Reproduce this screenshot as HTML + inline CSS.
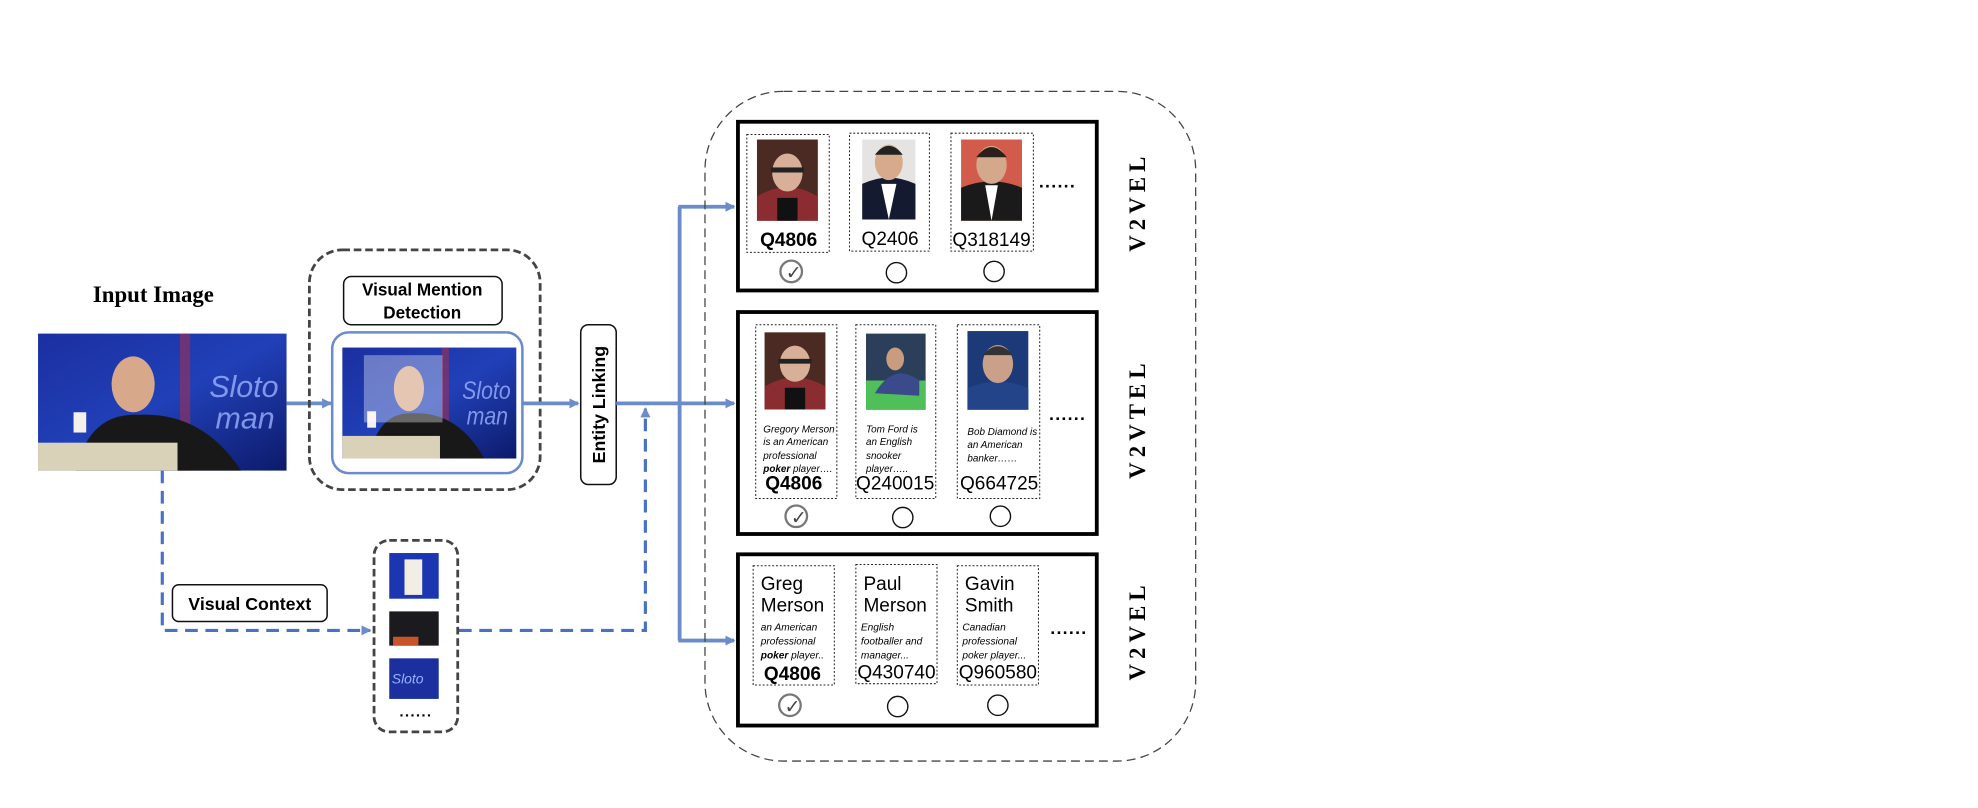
<!DOCTYPE html>
<html><head><meta charset="utf-8"><style>
html,body{margin:0;padding:0;background:#fff;}
svg{display:block;}
.s{font-family:"Liberation Sans",sans-serif;}
.r{font-family:"Liberation Serif",serif;}
</style></head><body>
<svg width="1978" height="808" viewBox="0 0 1560 637" preserveAspectRatio="none" xmlns="http://www.w3.org/2000/svg">
<defs>
<marker id="ah" markerWidth="8" markerHeight="8" refX="7" refY="4" orient="auto" markerUnits="userSpaceOnUse"><path d="M0,0 L8,4 L0,8 z" fill="#6a8ccb"/></marker>
<linearGradient id="bg" x1="0" y1="0" x2="1" y2="1"><stop offset="0" stop-color="#1b2fa0"/><stop offset="0.5" stop-color="#2140b8"/><stop offset="1" stop-color="#0c1a6a"/></linearGradient>
<g id="scene">
<rect x="0" y="0" width="196" height="108" fill="url(#bg)"/>
<rect x="112" y="0" width="8" height="108" fill="#a03050" opacity="0.6"/>
<text x="135" y="50" font-size="24" fill="#9ab0ff" font-style="italic" class="s" opacity="0.8">Sloto</text>
<text x="140" y="75" font-size="24" fill="#9ab0ff" font-style="italic" class="s" opacity="0.8">man</text>
<path d="M30,108 Q40,62 80,64 Q130,62 160,108 z" fill="#181818"/>
<ellipse cx="75" cy="40" rx="17" ry="22" fill="#d7a88a"/>
<rect x="0" y="86" width="110" height="22" fill="#d9d2b8"/>
<rect x="28" y="62" width="10" height="16" fill="#f4f0ee"/>
</g>
<g id="p1"><rect width="48" height="64" fill="#4a2a22"/><path d="M0,64 L0,45 Q24,30 48,45 L48,64z" fill="#8a2c30"/><ellipse cx="24" cy="26" rx="12" ry="15" fill="#d8b09a"/><rect x="16" y="46" width="16" height="18" fill="#111"/><rect x="11" y="22" width="26" height="4" fill="#222"/></g>
</defs>

<text x="121" y="238" class="r" font-size="18" font-weight="bold" text-anchor="middle">Input Image</text>
<use href="#scene" transform="translate(30,263)"/>
<line x1="226" y1="318" x2="261" y2="318" stroke="#6a8ccb" stroke-width="3" marker-end="url(#ah)"/>

<rect x="244" y="197" width="182" height="189" rx="26" fill="none" stroke="#444" stroke-width="2.2" stroke-dasharray="6,3"/>
<rect x="271" y="218" width="125" height="38" rx="6" fill="#fff" stroke="#111" stroke-width="1.2"/>
<text x="333" y="233" class="s" font-size="13.5" font-weight="bold" text-anchor="middle">Visual Mention</text>
<text x="333" y="251" class="s" font-size="13.5" font-weight="bold" text-anchor="middle">Detection</text>
<rect x="262" y="262" width="150" height="111" rx="13" fill="#fff" stroke="#6a8ccb" stroke-width="2"/>
<use href="#scene" transform="translate(270,274) scale(0.7,0.81)"/>
<rect x="287" y="280" width="62" height="53" fill="#fff" opacity="0.35"/>
<line x1="412" y1="318" x2="456" y2="318" stroke="#6a8ccb" stroke-width="3" marker-end="url(#ah)"/>

<rect x="458" y="256" width="28" height="126" rx="6" fill="#fff" stroke="#111" stroke-width="1.2"/>
<text transform="translate(477,319) rotate(-90)" class="s" font-size="14" font-weight="bold" text-anchor="middle">Entity Linking</text>

<line x1="486" y1="318" x2="536" y2="318" stroke="#6a8ccb" stroke-width="3"/>
<line x1="536" y1="163" x2="536" y2="505" stroke="#6a8ccb" stroke-width="3"/>
<line x1="535" y1="163" x2="579" y2="163" stroke="#6a8ccb" stroke-width="3" marker-end="url(#ah)"/>
<line x1="535" y1="318" x2="579" y2="318" stroke="#6a8ccb" stroke-width="3" marker-end="url(#ah)"/>
<line x1="535" y1="505" x2="579" y2="505" stroke="#6a8ccb" stroke-width="3" marker-end="url(#ah)"/>

<path d="M128,371 L128,497 L292,497" fill="none" stroke="#4a72c4" stroke-width="2.5" stroke-dasharray="10,6" marker-end="url(#ah)"/>
<path d="M362,497 L509,497 L509,322" fill="none" stroke="#4a72c4" stroke-width="2.5" stroke-dasharray="10,6" marker-end="url(#ah)"/>
<rect x="136" y="461" width="122" height="29" rx="5" fill="#fff" stroke="#111" stroke-width="1.2"/>
<text x="197" y="481" class="s" font-size="14" font-weight="bold" text-anchor="middle">Visual Context</text>

<rect x="295" y="426" width="66" height="151" rx="12" fill="none" stroke="#444" stroke-width="2.2" stroke-dasharray="6,3"/>
<rect x="307" y="436" width="39" height="36" fill="#1c35b0"/><rect x="319" y="441" width="14" height="28" fill="#f2eee6"/>
<rect x="307" y="482" width="39" height="27" fill="#1a1a1f"/><rect x="310" y="502" width="20" height="7" fill="#c8552a"/>
<rect x="307" y="519" width="39" height="32" fill="#1c2f9e"/><text x="309" y="539" font-size="11" fill="#9ab0ff" font-style="italic" class="s">Sloto</text>
<text x="328" y="565" class="s" font-size="12" font-weight="bold" text-anchor="middle" letter-spacing="1">......</text>

<rect x="556" y="72" width="387" height="528" rx="62" fill="none" stroke="#444" stroke-width="1" stroke-dasharray="7,4"/>

<rect x="582" y="96" width="283" height="133" fill="#fff" stroke="#000" stroke-width="3"/>
<rect x="589" y="106" width="65" height="93" fill="none" stroke="#222" stroke-width="0.8" stroke-dasharray="1.5,1.5"/>
<use href="#p1" transform="translate(597,110)"/>
<text x="622" y="194" class="s" font-size="15" font-weight="bold" text-anchor="middle">Q4806</text>
<rect x="670" y="105" width="63" height="93" fill="none" stroke="#222" stroke-width="0.8" stroke-dasharray="1.5,1.5"/>
<rect x="680" y="110" width="42" height="63" fill="#e6e4e2"/><path d="M680,173 L680,145 Q701,135 722,145 L722,173z" fill="#141a30"/><path d="M695,145 L701,173 L707,145z" fill="#fff"/><ellipse cx="701" cy="128" rx="11" ry="14" fill="#d7aa8c"/><path d="M690,122 Q701,108 712,122 z" fill="#222"/>
<text x="702" y="193" class="s" font-size="15" text-anchor="middle">Q2406</text>
<rect x="750" y="105" width="65" height="93" fill="none" stroke="#222" stroke-width="0.8" stroke-dasharray="1.5,1.5"/>
<rect x="758" y="110" width="48" height="64" fill="#d35b4c"/><path d="M758,174 L758,148 Q782,138 806,148 L806,174z" fill="#1a1a1a"/><path d="M777,146 L782,174 L787,146z" fill="#fff"/><ellipse cx="782" cy="130" rx="12" ry="15" fill="#d4a88a"/><path d="M770,124 Q782,108 794,124z" fill="#2a1f1a"/>
<text x="782" y="194" class="s" font-size="15" text-anchor="middle">Q318149</text>
<text x="834" y="148" class="s" font-size="14" font-weight="bold" text-anchor="middle" letter-spacing="1">......</text>
<circle cx="624" cy="214" r="8.5" fill="none" stroke="#777" stroke-width="1.8"/><text x="626" y="220" class="s" font-size="15" fill="#444" text-anchor="middle">✓</text>
<circle cx="707" cy="215" r="8" fill="none" stroke="#111" stroke-width="1.1"/>
<circle cx="784" cy="214" r="8" fill="none" stroke="#111" stroke-width="1.1"/>
<text transform="translate(903,159) rotate(-90)" class="r" font-size="18" font-weight="bold" text-anchor="middle" letter-spacing="4">V2VEL</text>

<rect x="582" y="246" width="283" height="175" fill="#fff" stroke="#000" stroke-width="3"/>
<rect x="596" y="256" width="64" height="137" fill="none" stroke="#222" stroke-width="0.8" stroke-dasharray="1.5,1.5"/>
<use href="#p1" transform="translate(603,262) scale(1,0.95)"/>
<g class="s" font-size="7.8" font-style="italic">
<text x="602" y="341">Gregory Merson</text><text x="602" y="351">is an American</text><text x="602" y="362">professional</text><text x="602" y="372"><tspan font-weight="bold">poker</tspan> player….</text>
<text x="683" y="341">Tom Ford is</text><text x="683" y="351">an English</text><text x="683" y="362">snooker</text><text x="683" y="372">player…..</text>
<text x="763" y="343">Bob Diamond is</text><text x="763" y="353">an American</text><text x="763" y="364">banker……</text>
</g>
<text x="626" y="386" class="s" font-size="15" font-weight="bold" text-anchor="middle">Q4806</text>
<rect x="675" y="256" width="63" height="137" fill="none" stroke="#222" stroke-width="0.8" stroke-dasharray="1.5,1.5"/>
<rect x="683" y="263" width="47" height="60" fill="#2c3f5a"/><rect x="683" y="300" width="47" height="23" fill="#4fbf5a"/><path d="M690,310 Q705,285 725,300 L725,312z" fill="#3a4a8a"/><ellipse cx="706" cy="283" rx="7" ry="9" fill="#c99c80"/>
<text x="706" y="386" class="s" font-size="15" text-anchor="middle">Q240015</text>
<rect x="755" y="256" width="65" height="137" fill="none" stroke="#222" stroke-width="0.8" stroke-dasharray="1.5,1.5"/>
<rect x="763" y="261" width="48" height="62" fill="#1c3a78"/><path d="M763,323 L763,306 Q787,296 811,306 L811,323z" fill="#24448a"/><ellipse cx="787" cy="287" rx="12" ry="15" fill="#caa08a"/><path d="M775,280 Q787,266 799,280z" fill="#333"/>
<text x="788" y="386" class="s" font-size="15" text-anchor="middle">Q664725</text>
<text x="842" y="331" class="s" font-size="14" font-weight="bold" text-anchor="middle" letter-spacing="1">......</text>
<circle cx="628" cy="407" r="8.5" fill="none" stroke="#777" stroke-width="1.8"/><text x="630" y="413" class="s" font-size="15" fill="#444" text-anchor="middle">✓</text>
<circle cx="712" cy="408" r="8" fill="none" stroke="#111" stroke-width="1.1"/>
<circle cx="789" cy="407" r="8" fill="none" stroke="#111" stroke-width="1.1"/>
<text transform="translate(903,330) rotate(-90)" class="r" font-size="18" font-weight="bold" text-anchor="middle" letter-spacing="4">V2VTEL</text>

<rect x="582" y="437" width="283" height="135" fill="#fff" stroke="#000" stroke-width="3"/>
<rect x="594" y="446" width="64" height="94" fill="none" stroke="#222" stroke-width="0.8" stroke-dasharray="1.5,1.5"/>
<rect x="675" y="445" width="64" height="94" fill="none" stroke="#222" stroke-width="0.8" stroke-dasharray="1.5,1.5"/>
<rect x="755" y="446" width="64" height="94" fill="none" stroke="#222" stroke-width="0.8" stroke-dasharray="1.5,1.5"/>
<g class="s" font-size="15">
<text x="600" y="465">Greg</text><text x="600" y="482">Merson</text>
<text x="681" y="465">Paul</text><text x="681" y="482">Merson</text>
<text x="761" y="465">Gavin</text><text x="761" y="482">Smith</text>
</g>
<g class="s" font-size="8" font-style="italic">
<text x="600" y="497">an American</text><text x="600" y="508">professional</text><text x="600" y="519"><tspan font-weight="bold">poker</tspan> player..</text>
<text x="679" y="497">English</text><text x="679" y="508">footballer and</text><text x="679" y="519">manager...</text>
<text x="759" y="497">Canadian</text><text x="759" y="508">professional</text><text x="759" y="519">poker player...</text>
</g>
<text x="625" y="536" class="s" font-size="15" font-weight="bold" text-anchor="middle">Q4806</text>
<text x="707" y="535" class="s" font-size="15" text-anchor="middle">Q430740</text>
<text x="787" y="535" class="s" font-size="15" text-anchor="middle">Q960580</text>
<text x="843" y="500" class="s" font-size="14" font-weight="bold" text-anchor="middle" letter-spacing="1">......</text>
<circle cx="623" cy="556" r="8.5" fill="none" stroke="#777" stroke-width="1.8"/><text x="625" y="562" class="s" font-size="15" fill="#444" text-anchor="middle">✓</text>
<circle cx="708" cy="557" r="8" fill="none" stroke="#111" stroke-width="1.1"/>
<circle cx="787" cy="556" r="8" fill="none" stroke="#111" stroke-width="1.1"/>
<text transform="translate(903,497) rotate(-90)" class="r" font-size="18" font-weight="bold" text-anchor="middle" letter-spacing="4">V2VEL</text>
</svg>
</body></html>
